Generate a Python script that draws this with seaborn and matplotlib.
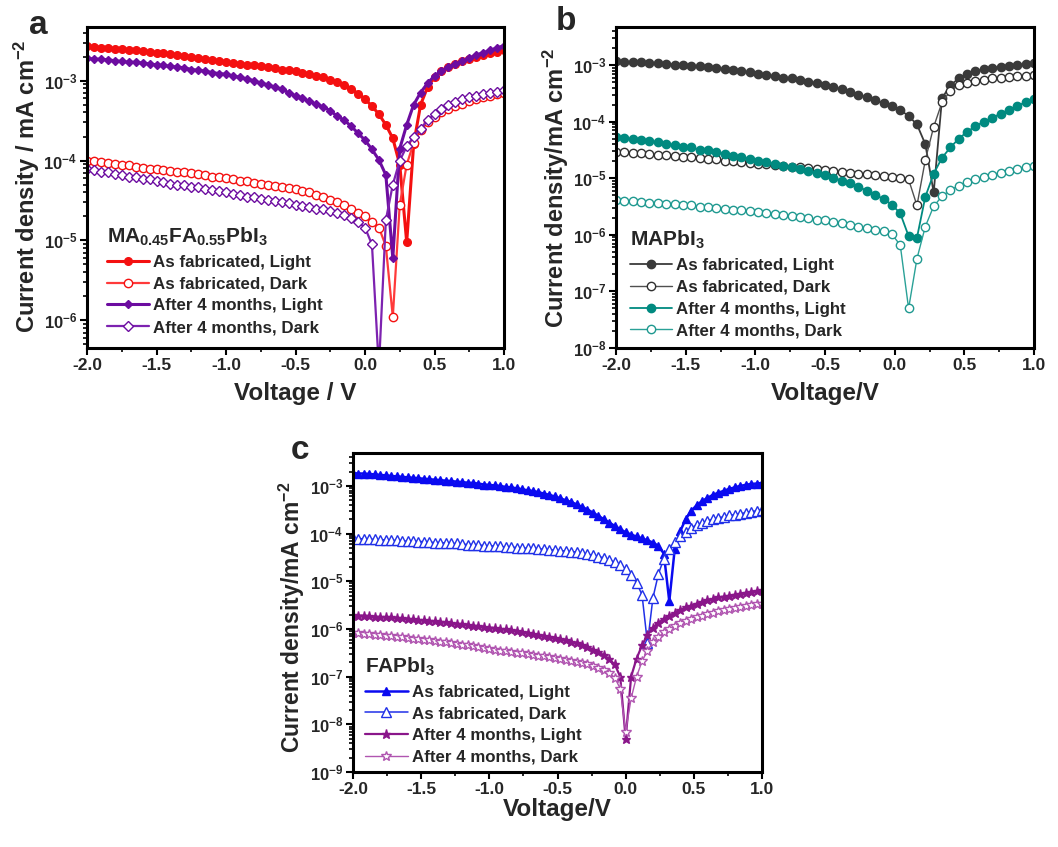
import numpy as np
import matplotlib
matplotlib.use("Agg")
import matplotlib.pyplot as plt
import seaborn as sns
from matplotlib.ticker import LogLocator, MultipleLocator, FuncFormatter, NullFormatter

# ---------------- data ----------------
series_labels = ["As fabricated, Light", "As fabricated, Dark",
                 "After 4 months, Light", "After 4 months, Dark"]

# Panel a : MA0.45FA0.55PbI3
Va = [-2.00,-1.95,-1.90,-1.85,-1.80,-1.75,-1.70,-1.65,-1.60,-1.55,
      -1.50,-1.45,-1.40,-1.35,-1.30,-1.25,-1.20,-1.15,-1.10,-1.05,
      -1.00,-0.95,-0.90,-0.85,-0.80,-0.75,-0.70,-0.65,-0.60,-0.55,
      -0.50,-0.45,-0.40,-0.35,-0.30,-0.25,-0.20,-0.15,-0.10,-0.05,
      0.00,0.05,0.10,0.15,0.20,0.25,0.30,0.35,0.40,0.45,
      0.50,0.55,0.60,0.65,0.70,0.75,0.80,0.85,0.90,0.95,1.00]
a_fab_light = [2.69e-3,2.63e-3,2.60e-3,2.57e-3,2.51e-3,2.48e-3,2.45e-3,2.40e-3,2.34e-3,2.29e-3,
               2.24e-3,2.19e-3,2.14e-3,2.09e-3,2.04e-3,2.00e-3,1.91e-3,1.86e-3,1.82e-3,1.74e-3,
               1.70e-3,1.66e-3,1.62e-3,1.58e-3,1.55e-3,1.51e-3,1.48e-3,1.45e-3,1.38e-3,1.35e-3,
               1.32e-3,1.26e-3,1.20e-3,1.15e-3,1.10e-3,1.02e-3,9.5e-4,8.9e-4,7.9e-4,6.9e-4,
               5.9e-4,4.8e-4,3.8e-4,2.8e-4,1.9e-4,8.9e-5,9.5e-6,1.6e-4,5.0e-4,8.3e-4,
               1.10e-3,1.32e-3,1.48e-3,1.62e-3,1.74e-3,1.86e-3,2.00e-3,2.09e-3,2.19e-3,2.29e-3,2.40e-3]
a_fab_dark = [1.0e-4,9.8e-5,9.5e-5,9.3e-5,9.1e-5,8.9e-5,8.7e-5,8.3e-5,8.1e-5,7.9e-5,
              7.8e-5,7.6e-5,7.4e-5,7.2e-5,7.1e-5,6.9e-5,6.8e-5,6.5e-5,6.3e-5,6.2e-5,
              6.0e-5,5.9e-5,5.6e-5,5.5e-5,5.2e-5,5.1e-5,5.0e-5,4.8e-5,4.7e-5,4.5e-5,
              4.4e-5,4.2e-5,4.0e-5,3.7e-5,3.5e-5,3.2e-5,3.0e-5,2.8e-5,2.5e-5,2.2e-5,
              2.0e-5,1.7e-5,1.45e-5,8.5e-6,1.1e-6,2.8e-5,8.9e-5,1.66e-4,2.4e-4,3.0e-4,
              3.5e-4,4.0e-4,4.4e-4,4.8e-4,5.1e-4,5.5e-4,5.9e-4,6.2e-4,6.5e-4,6.8e-4,7.1e-4]
a_aged_light = [1.91e-3,1.86e-3,1.86e-3,1.82e-3,1.78e-3,1.74e-3,1.70e-3,1.70e-3,1.66e-3,1.62e-3,
                1.58e-3,1.55e-3,1.51e-3,1.48e-3,1.45e-3,1.38e-3,1.35e-3,1.32e-3,1.26e-3,1.23e-3,
                1.20e-3,1.15e-3,1.10e-3,1.05e-3,1.00e-3,9.3e-4,8.9e-4,8.3e-4,7.8e-4,7.1e-4,
                6.5e-4,6.0e-4,5.5e-4,5.1e-4,4.7e-4,4.2e-4,3.6e-4,3.2e-4,2.7e-4,2.2e-4,
                1.8e-4,1.38e-4,1.02e-4,6.6e-5,6.0e-6,1.41e-4,2.8e-4,5.0e-4,7.1e-4,9.3e-4,
                1.15e-3,1.32e-3,1.48e-3,1.62e-3,1.74e-3,1.91e-3,2.09e-3,2.24e-3,2.40e-3,2.57e-3,2.75e-3]
a_aged_dark = [7.8e-5,7.6e-5,7.2e-5,7.1e-5,6.8e-5,6.6e-5,6.3e-5,6.2e-5,5.9e-5,5.8e-5,
               5.5e-5,5.4e-5,5.1e-5,5.0e-5,4.9e-5,4.7e-5,4.6e-5,4.4e-5,4.3e-5,4.1e-5,
               4.0e-5,3.8e-5,3.7e-5,3.5e-5,3.5e-5,3.3e-5,3.2e-5,3.1e-5,3.0e-5,2.9e-5,
               2.8e-5,2.7e-5,2.6e-5,2.5e-5,2.45e-5,2.35e-5,2.2e-5,2.1e-5,1.9e-5,1.7e-5,
               1.45e-5,8.9e-6,2.5e-7,1.8e-5,5.0e-5,1.0e-4,1.5e-4,2.0e-4,2.5e-4,3.2e-4,
               3.8e-4,4.4e-4,4.9e-4,5.4e-4,5.9e-4,6.2e-4,6.5e-4,6.8e-4,7.1e-4,7.2e-4,7.6e-4]

# Panel b : MAPbI3
Vb = [-2.00,-1.94,-1.88,-1.82,-1.76,-1.70,-1.64,-1.58,-1.52,-1.46,
      -1.40,-1.34,-1.28,-1.22,-1.16,-1.10,-1.04,-0.98,-0.92,-0.86,
      -0.80,-0.74,-0.68,-0.62,-0.56,-0.50,-0.44,-0.38,-0.32,-0.26,
      -0.20,-0.14,-0.08,-0.02,0.04,0.10,0.16,0.22,0.28,0.34,
      0.40,0.46,0.52,0.58,0.64,0.70,0.76,0.82,0.88,0.94,1.00]
b_fab_light = [1.17e-3,1.15e-3,1.12e-3,1.12e-3,1.10e-3,1.07e-3,1.05e-3,1.02e-3,1.00e-3,9.8e-4,
               9.5e-4,9.1e-4,8.9e-4,8.5e-4,8.1e-4,7.8e-4,7.4e-4,6.9e-4,6.6e-4,6.3e-4,
               6.0e-4,5.8e-4,5.5e-4,5.1e-4,4.8e-4,4.4e-4,4.1e-4,3.7e-4,3.4e-4,3.0e-4,
               2.7e-4,2.4e-4,2.1e-4,1.9e-4,1.6e-4,1.26e-4,8.9e-5,4.0e-5,5.6e-6,2.6e-4,
               4.4e-4,5.8e-4,6.9e-4,7.8e-4,8.5e-4,8.9e-4,9.3e-4,9.8e-4,1.0e-3,1.05e-3,1.07e-3]
b_fab_dark = [2.95e-5,2.9e-5,2.8e-5,2.75e-5,2.7e-5,2.6e-5,2.55e-5,2.5e-5,2.4e-5,2.35e-5,
              2.3e-5,2.2e-5,2.15e-5,2.05e-5,2.0e-5,1.9e-5,1.85e-5,1.8e-5,1.75e-5,1.7e-5,
              1.65e-5,1.6e-5,1.55e-5,1.5e-5,1.45e-5,1.38e-5,1.35e-5,1.3e-5,1.26e-5,1.2e-5,
              1.17e-5,1.15e-5,1.1e-5,1.07e-5,1.02e-5,9.5e-6,3.3e-6,2.1e-5,8.1e-5,2.2e-4,
              3.5e-4,4.4e-4,4.9e-4,5.2e-4,5.5e-4,5.8e-4,5.9e-4,6.2e-4,6.3e-4,6.5e-4,6.6e-4]
b_aged_light = [5.4e-5,5.1e-5,4.9e-5,4.7e-5,4.5e-5,4.3e-5,4.1e-5,3.8e-5,3.6e-5,3.5e-5,
                3.2e-5,3.1e-5,2.9e-5,2.7e-5,2.5e-5,2.35e-5,2.2e-5,2.05e-5,1.9e-5,1.8e-5,
                1.65e-5,1.55e-5,1.45e-5,1.35e-5,1.23e-5,1.12e-5,1.02e-5,9.1e-6,8.1e-6,7.1e-6,
                6.0e-6,5.1e-6,4.3e-6,3.4e-6,2.4e-6,9.5e-7,8.9e-7,4.7e-6,1.2e-5,2.3e-5,
                3.5e-5,5.0e-5,6.6e-5,8.3e-5,1.0e-4,1.17e-4,1.38e-4,1.62e-4,1.9e-4,2.2e-4,2.5e-4]
b_aged_dark = [4.1e-6,4.0e-6,3.9e-6,3.8e-6,3.7e-6,3.6e-6,3.55e-6,3.5e-6,3.4e-6,3.3e-6,
               3.15e-6,3.1e-6,3.0e-6,2.9e-6,2.8e-6,2.7e-6,2.6e-6,2.5e-6,2.4e-6,2.35e-6,
               2.25e-6,2.15e-6,2.05e-6,1.95e-6,1.85e-6,1.8e-6,1.7e-6,1.6e-6,1.5e-6,1.4e-6,
               1.3e-6,1.23e-6,1.15e-6,1.02e-6,6.6e-7,5.0e-8,3.8e-7,1.4e-6,3.2e-6,4.8e-6,
               6.2e-6,7.4e-6,8.5e-6,9.5e-6,1.05e-5,1.15e-5,1.26e-5,1.35e-5,1.45e-5,1.55e-5,1.66e-5]

# Panel c : FAPbI3
Vc = [-2.00,-1.96,-1.92,-1.88,-1.84,-1.80,-1.76,-1.72,-1.68,-1.64,
      -1.60,-1.56,-1.52,-1.48,-1.44,-1.40,-1.36,-1.32,-1.28,-1.24,
      -1.20,-1.16,-1.12,-1.08,-1.04,-1.00,-0.96,-0.92,-0.88,-0.84,
      -0.80,-0.76,-0.72,-0.68,-0.64,-0.60,-0.56,-0.52,-0.48,-0.44,
      -0.40,-0.36,-0.32,-0.28,-0.24,-0.20,-0.16,-0.12,-0.08,-0.04,
      0.00,0.04,0.08,0.12,0.16,0.20,0.24,0.28,0.32,0.36,
      0.40,0.44,0.48,0.52,0.56,0.60,0.64,0.68,0.72,0.76,
      0.80,0.84,0.88,0.92,0.96,1.00]
c_fab_light = [1.86e-3,1.82e-3,1.82e-3,1.78e-3,1.74e-3,1.70e-3,1.66e-3,1.62e-3,1.58e-3,1.55e-3,
               1.51e-3,1.48e-3,1.45e-3,1.41e-3,1.38e-3,1.35e-3,1.32e-3,1.29e-3,1.26e-3,1.23e-3,
               1.20e-3,1.17e-3,1.15e-3,1.12e-3,1.07e-3,1.05e-3,1.02e-3,1.00e-3,9.5e-4,9.3e-4,
               8.9e-4,8.5e-4,8.1e-4,7.8e-4,7.4e-4,6.9e-4,6.5e-4,6.0e-4,5.5e-4,5.0e-4,
               4.6e-4,4.1e-4,3.6e-4,3.2e-4,2.75e-4,2.35e-4,2.0e-4,1.7e-4,1.45e-4,1.23e-4,
               1.07e-4,9.5e-5,8.7e-5,7.9e-5,7.2e-5,6.5e-5,5.5e-5,3.8e-5,3.8e-6,4.8e-5,
               1.12e-4,2.0e-4,3.0e-4,3.9e-4,4.8e-4,5.6e-4,6.5e-4,7.2e-4,7.9e-4,8.7e-4,
               9.3e-4,1.00e-3,1.05e-3,1.10e-3,1.12e-3,1.15e-3]
c_fab_dark = [7.9e-5,7.8e-5,7.8e-5,7.6e-5,7.6e-5,7.4e-5,7.4e-5,7.2e-5,7.2e-5,7.1e-5,
              6.9e-5,6.9e-5,6.8e-5,6.8e-5,6.6e-5,6.5e-5,6.5e-5,6.3e-5,6.2e-5,6.2e-5,
              6.0e-5,5.9e-5,5.9e-5,5.8e-5,5.6e-5,5.5e-5,5.5e-5,5.4e-5,5.2e-5,5.2e-5,
              5.1e-5,5.0e-5,4.9e-5,4.9e-5,4.8e-5,4.7e-5,4.6e-5,4.5e-5,4.4e-5,4.3e-5,
              4.2e-5,4.1e-5,3.9e-5,3.7e-5,3.5e-5,3.3e-5,3.1e-5,2.8e-5,2.5e-5,2.2e-5,
              1.8e-5,1.38e-5,9.3e-6,5.2e-6,5.0e-7,4.5e-6,1.41e-5,3.0e-5,4.8e-5,6.6e-5,
              8.7e-5,1.1e-4,1.32e-4,1.51e-4,1.7e-4,1.86e-4,2.0e-4,2.15e-4,2.25e-4,2.4e-4,
              2.5e-4,2.6e-4,2.75e-4,2.9e-4,3.0e-4,3.2e-4]
c_aged_light = [1.95e-6,1.91e-6,1.91e-6,1.86e-6,1.82e-6,1.78e-6,1.78e-6,1.74e-6,1.70e-6,1.66e-6,
                1.62e-6,1.58e-6,1.55e-6,1.51e-6,1.48e-6,1.45e-6,1.41e-6,1.38e-6,1.32e-6,1.29e-6,
                1.26e-6,1.23e-6,1.17e-6,1.15e-6,1.10e-6,1.07e-6,1.05e-6,1.0e-6,9.8e-7,9.3e-7,
                9.1e-7,8.7e-7,8.3e-7,7.9e-7,7.6e-7,7.2e-7,6.9e-7,6.6e-7,6.2e-7,5.8e-7,
                5.4e-7,5.0e-7,4.6e-7,4.2e-7,3.7e-7,3.3e-7,2.8e-7,2.3e-7,1.8e-7,1.0e-7,
                5.0e-9,1.0e-7,2.4e-7,4.5e-7,7.6e-7,1.07e-6,1.35e-6,1.62e-6,1.91e-6,2.19e-6,
                2.51e-6,2.82e-6,3.09e-6,3.39e-6,3.72e-6,3.98e-6,4.27e-6,4.57e-6,4.79e-6,5.01e-6,
                5.25e-6,5.50e-6,5.75e-6,6.03e-6,6.31e-6,6.46e-6]
c_aged_dark = [8.3e-7,8.1e-7,7.9e-7,7.8e-7,7.6e-7,7.4e-7,7.2e-7,7.1e-7,6.9e-7,6.8e-7,
               6.6e-7,6.3e-7,6.2e-7,6.0e-7,5.8e-7,5.6e-7,5.4e-7,5.2e-7,5.0e-7,4.9e-7,
               4.7e-7,4.6e-7,4.4e-7,4.2e-7,4.0e-7,3.8e-7,3.7e-7,3.5e-7,3.5e-7,3.3e-7,
               3.2e-7,3.1e-7,3.0e-7,2.9e-7,2.75e-7,2.7e-7,2.6e-7,2.45e-7,2.35e-7,2.25e-7,
               2.15e-7,2.0e-7,1.9e-7,1.8e-7,1.65e-7,1.5e-7,1.4e-7,1.2e-7,9.5e-8,5.6e-8,
               7.0e-9,3.5e-8,1.0e-7,2.1e-7,3.5e-7,5.2e-7,6.8e-7,8.5e-7,1.0e-6,1.15e-6,
               1.32e-6,1.48e-6,1.62e-6,1.78e-6,1.9e-6,2.05e-6,2.2e-6,2.35e-6,2.45e-6,2.6e-6,
               2.75e-6,2.9e-6,3.0e-6,3.15e-6,3.3e-6,3.4e-6]

x_ticks = [-2.0, -1.5, -1.0, -0.5, 0.0, 0.5, 1.0]

# ---------------- style ----------------
sns.set_theme(style="ticks")
plt.rcParams['font.family'] = ['Liberation Sans', 'DejaVu Sans']
plt.rcParams['font.weight'] = 'bold'
plt.rcParams['axes.labelweight'] = 'bold'
plt.rcParams['mathtext.fontset'] = 'custom'
plt.rcParams['mathtext.rm'] = 'Liberation Sans:bold'
plt.rcParams['mathtext.bf'] = 'Liberation Sans:bold'
plt.rcParams['mathtext.it'] = 'Liberation Sans:bold'
plt.rcParams['mathtext.default'] = 'rm'

W, H = 1058, 847
fig = plt.figure(figsize=(W / 100, H / 100), dpi=100)
fig.patch.set_facecolor('white')


def axes_px(left, top, right, bottom):
    return fig.add_axes([left / W, 1 - bottom / H, (right - left) / W, (bottom - top) / H])


ax_a = axes_px(87, 27, 504, 348)
ax_b = axes_px(616, 27, 1034, 348)
ax_c = axes_px(353, 453, 762, 772)


def log_fmt(v, pos):
    return r'$10^{%d}$' % int(round(np.log10(v)))


def style_axes(ax, ylim, ylabel, ylab_x, ylab_y, ylab_size, xlabel, xlab_y):
    ax.set_yscale('log')
    ax.set_xlim(-2.0, 1.0)
    ax.set_ylim(*ylim)
    ax.set_xticks(x_ticks)
    ax.xaxis.set_minor_locator(MultipleLocator(0.25))
    ax.xaxis.set_major_formatter(FuncFormatter(lambda v, p: f'{round(v, 2) + 0.0:.1f}'))
    ax.yaxis.set_major_locator(LogLocator(base=10, numticks=20))
    ax.yaxis.set_minor_locator(LogLocator(base=10, subs=np.arange(2, 10), numticks=200))
    ax.yaxis.set_minor_formatter(NullFormatter())
    ax.yaxis.set_major_formatter(FuncFormatter(log_fmt))
    ax.tick_params(which='both', direction='out', top=False, right=False,
                   width=1.5, color='black', pad=2.5)
    ax.tick_params(axis='x', labelsize=12.5)
    ax.tick_params(axis='y', labelsize=12, pad=2)
    ax.tick_params(which='major', length=5)
    ax.tick_params(which='minor', length=3, width=1.2)
    for s in ax.spines.values():
        s.set_linewidth(2.2)
        s.set_color('black')
    ax.set_facecolor('white')
    ax.grid(False)
    ax.set_ylabel(ylabel, fontsize=ylab_size, fontweight='bold')
    ax.set_xlabel(xlabel, fontsize=17.5, fontweight='bold')
    ax.yaxis.set_label_coords(ylab_x, ylab_y)
    ax.xaxis.set_label_coords(0.5, xlab_y)


def draw(ax, x, y, color, marker, ms, filled, lw, label, line_color=None, mew=1.0):
    sns.lineplot(x=x, y=y, ax=ax, color=line_color or color, linewidth=lw,
                 marker=marker, markersize=ms,
                 markerfacecolor=color if filled else 'white',
                 markeredgecolor=color, markeredgewidth=mew,
                 label=label, estimator=None, sort=False)


def legend(ax, title, anchor):
    leg = ax.legend(title=title, loc='lower left', bbox_to_anchor=anchor,
                    frameon=False, fontsize=12.2, handlelength=2.5,
                    handletextpad=0.25, labelspacing=0.4, borderpad=0,
                    borderaxespad=0, alignment='left',
                    title_fontproperties={'weight': 'bold', 'size': 15})
    return leg


# Panel a
red = '#f41010'
purple = '#6c0ca0'
draw(ax_a, Va, a_fab_light, red, 'o', 5.5, True, 2.2, series_labels[0])
draw(ax_a, Va, a_fab_dark, red, 'o', 6.0, False, 1.6, series_labels[1], line_color='#ff3a3a')
draw(ax_a, Va, a_aged_light, purple, 'D', 4.2, True, 2.2, series_labels[2])
draw(ax_a, Va, a_aged_dark, purple, 'D', 5.0, False, 1.6, series_labels[3], line_color='#7d22b0')
style_axes(ax_a, (4.5e-7, 4.7e-3), r'Current density / mA cm$^{-2}$', -0.108, 0.505, 17,
           'Voltage / V', -0.105)
legend(ax_a, r'MA$_{0.45}$FA$_{0.55}$PbI$_{3}$', (0.047, 0.04))

# Panel b
gray = '#3a3a3a'
teal = '#008a80'
draw(ax_b, Vb, b_fab_light, gray, 'o', 6.0, True, 1.3, series_labels[0])
draw(ax_b, Vb, b_fab_dark, '#303030', 'o', 6.0, False, 1.0, series_labels[1], line_color='#505050')
draw(ax_b, Vb, b_aged_light, teal, 'o', 6.0, True, 1.3, series_labels[2])
draw(ax_b, Vb, b_aged_dark, '#1f9990', 'o', 6.0, False, 1.0, series_labels[3], line_color='#2aa197')
style_axes(ax_b, (1e-8, 4.7e-3), r'Current density/mA cm$^{-2}$', -0.108, 0.5, 17,
           'Voltage/V', -0.105)
legend(ax_b, r'MAPbI$_{3}$', (0.033, 0.03))

# Panel c
blue = '#0a0af0'
mag = '#8a168a'
draw(ax_c, Vc, c_fab_light, blue, '^', 6.0, True, 1.8, series_labels[0])
draw(ax_c, Vc, c_fab_dark, '#2030e8', '^', 6.5, False, 1.1, series_labels[1])
draw(ax_c, Vc, c_aged_light, mag, '*', 6.5, True, 1.6, series_labels[2])
draw(ax_c, Vc, c_aged_dark, '#b055b0', '*', 7.0, False, 1.0, series_labels[3])
style_axes(ax_c, (1e-9, 4.9e-3), r'Current density/mA cm$^{-2}$', -0.113, 0.485, 16.5,
           'Voltage/V', -0.08)
legend(ax_c, r'FAPbI$_{3}$', (0.03, 0.022))

# panel letters
fig.text(38 / W, 1 - 26 / H, 'a', fontsize=24, fontweight='bold', ha='center', va='center')
fig.text(566 / W, 1 - 22 / H, 'b', fontsize=24, fontweight='bold', ha='center', va='center')
fig.text(300 / W, 1 - 450 / H, 'c', fontsize=24, fontweight='bold', ha='center', va='center')

fig.savefig('out.png', dpi=100, facecolor='white')
